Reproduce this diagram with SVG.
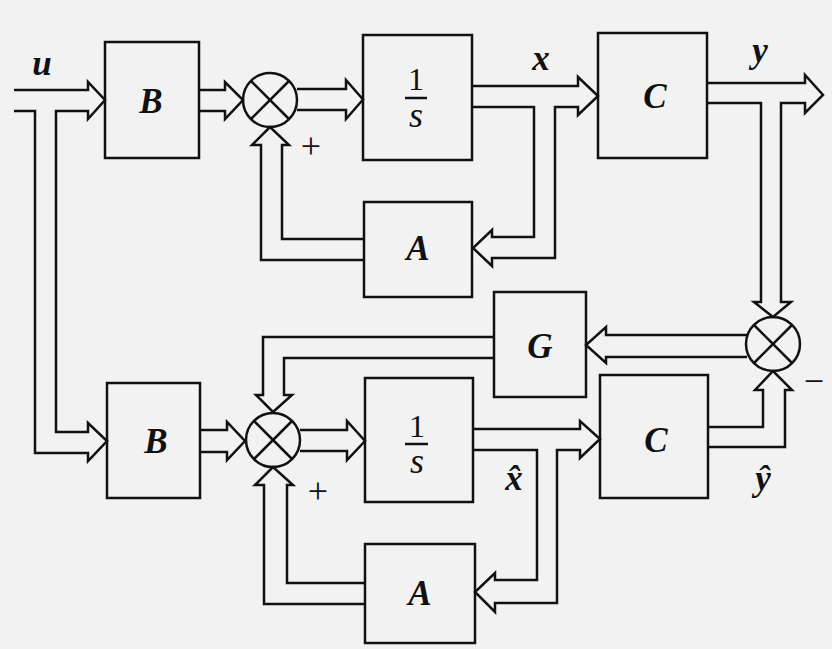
<svg xmlns="http://www.w3.org/2000/svg" width="832" height="649" viewBox="0 0 832 649">
<style>
.bg{fill:#f2f2f2}
.box{fill:none;stroke:#111;stroke-width:2.5}
.ln{fill:none;stroke:#111;stroke-width:2.5;stroke-linejoin:miter}
.lbl{font-family:"Liberation Serif","Times New Roman",serif;font-weight:bold;font-style:italic;font-size:35px;fill:#111;text-anchor:middle}
.num{font-family:"Liberation Serif","Times New Roman",serif;font-size:32px;fill:#111;text-anchor:middle}
.it{font-style:italic;font-size:36px}
.sg{font-family:"Liberation Serif","Times New Roman",serif;font-size:36px;fill:#111;text-anchor:middle}
</style>
<rect class="bg" x="0" y="0" width="832" height="649"/>
<g id="connectors">
<polyline class="ln" points="14,90 88,90 88,82 105,100 88,119 88,111 56,111 56,432 88,432 88,423 107,441 88,461 88,453 35,453 35,111 14,111"/>
<polyline class="ln" points="199,90 225,90 225,82 243,100 225,119 225,111 199,111"/>
<polyline class="ln" points="297,89 346,89 346,80 363,99.5 346,119 346,110 297,110"/>
<polyline class="ln" points="472,86 578,86 578,77 598,96 578,115 578,107 555,107 555,258 492,258 492,266 473,248 492,230 492,237 534,237 534,107 472,107"/>
<polyline class="ln" points="364,239 282,239 282,145 289,145 270,127 252,145 261,145 261,260 364,260"/>
<polyline class="ln" points="707,83 805,83 805,75 823,95 805,113 805,103 781,103 781,302 791,302 773,317 754,302 761,302 761,103 707,103"/>
<polyline class="ln" points="747,335 606,335 606,327 586,345 606,363 606,357 747,357"/>
<polyline class="ln" points="494,337 263,337 263,395 256,395 273,412 292,395 284,395 284,358 494,358"/>
<polyline class="ln" points="200,430 227,430 227,422 245,441 227,460 227,452 200,452"/>
<polyline class="ln" points="300,430 347,430 347,421 365,441 347,460 347,451 300,451"/>
<polyline class="ln" points="473,429 580,429 580,421 600,439 580,458 580,450 557,450 557,603 495,603 495,612 475,592 495,573 495,580 537,580 537,450 473,450"/>
<polyline class="ln" points="365,583 287,583 287,485 293,485 273,467 255,485 264,485 264,604 365,604"/>
<polyline class="ln" points="708,427 763,427 763,390 755,390 773,371 792,390 785,390 785,447 708,447"/>
</g>
<g id="B1"><rect class="box" x="105" y="42" width="94" height="116"/><text class="lbl" x="151" y="113">B</text></g>
<g id="S1"><rect class="box" x="363" y="35" width="109" height="125"/><text class="num" x="416" y="90">1</text><line class="ln" x1="405" y1="98" x2="427" y2="98"/><text class="num it" x="416" y="127">s</text></g>
<g id="C1"><rect class="box" x="598" y="33" width="109" height="125"/><text class="lbl" x="655" y="108">C</text></g>
<g id="A1"><rect class="box" x="364" y="202" width="108" height="95"/><text class="lbl" x="418" y="260">A</text></g>
<g id="G"><rect class="box" x="494" y="292" width="92" height="105"/><text class="lbl" x="540" y="358">G</text></g>
<g id="B2"><rect class="box" x="107" y="383" width="93" height="115"/><text class="lbl" x="156" y="453">B</text></g>
<g id="S2"><rect class="box" x="365" y="378" width="108" height="124"/><text class="num" x="417" y="437">1</text><line class="ln" x1="405" y1="444" x2="428" y2="444"/><text class="num it" x="417" y="473">s</text></g>
<g id="C2"><rect class="box" x="600" y="375" width="108" height="123"/><text class="lbl" x="656" y="452">C</text></g>
<g id="A2"><rect class="box" x="365" y="544" width="110" height="99"/><text class="lbl" x="420" y="605">A</text></g>
<g id="sum1"><circle class="box" cx="270" cy="100" r="27"/><line class="ln" x1="251" y1="81" x2="289" y2="119"/><line class="ln" x1="289" y1="81" x2="251" y2="119"/></g>
<g id="sum2"><circle class="box" cx="273" cy="440" r="27"/><line class="ln" x1="254" y1="421" x2="292" y2="459"/><line class="ln" x1="292" y1="421" x2="254" y2="459"/></g>
<g id="sum3"><circle class="box" cx="773" cy="344" r="27"/><line class="ln" x1="754" y1="325" x2="792" y2="363"/><line class="ln" x1="792" y1="325" x2="754" y2="363"/></g>
<g id="labels">
<text class="lbl" x="42" y="75">u</text>
<text class="lbl" x="541" y="70">x</text>
<text class="lbl" x="760" y="62">y</text>
<text class="lbl" x="514" y="490">x̂</text>
<text class="lbl" x="763" y="490">ŷ</text>
<text class="sg" x="311" y="158">+</text>
<text class="sg" x="318" y="503">+</text>
<text class="sg" x="814" y="393">−</text>
</g>
</svg>
